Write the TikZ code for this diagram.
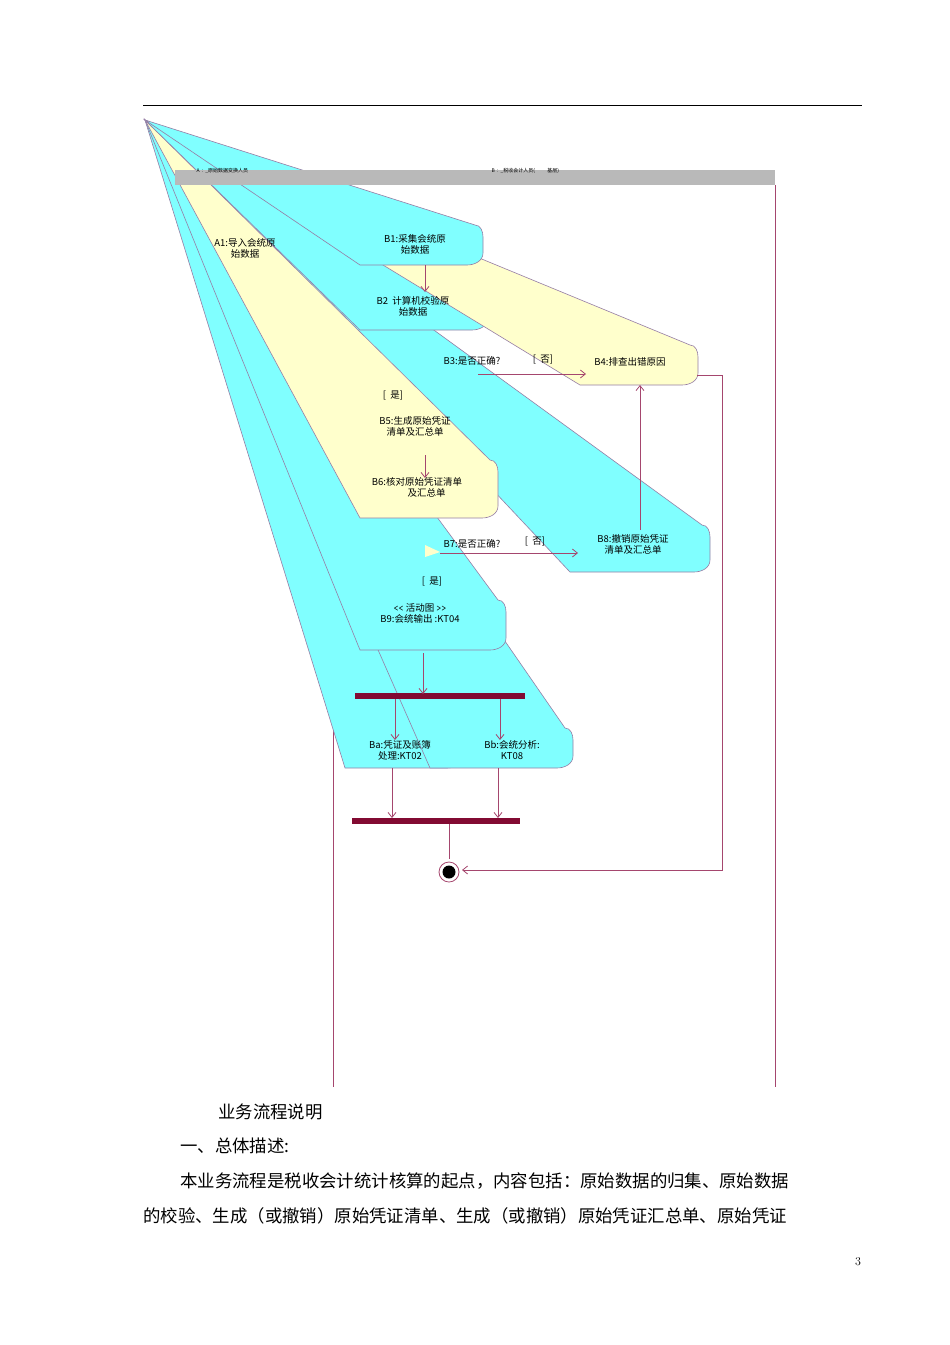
\documentclass[tikz,border=0pt]{standalone}
\usepackage{fontspec}
\newfontfamily\cjk{Noto Sans CJK SC}
\usetikzlibrary{arrows.meta}
\definecolor{cy}{RGB}{128,255,255}
\definecolor{yl}{RGB}{255,255,204}
\definecolor{bd}{RGB}{150,125,165}
\definecolor{ar}{RGB}{165,70,110}
\definecolor{br}{RGB}{130,10,50}
\tikzset{
 smear/.style={draw=bd,line width=0.6pt},
 lbl/.style={font=\cjk\fontsize{9.5}{11}\selectfont,align=center,inner sep=0pt},
 flow/.style={draw=ar,line width=0.8pt,-{Straight Barb[length=5pt,width=8pt]}},
 line/.style={draw=ar,line width=0.8pt},
 bar/.style={fill=br,draw=none},
 txt/.style={font=\cjk\fontsize{17.4}{19}\selectfont,anchor=west,inner sep=0pt}
}
\newcommand{\smearbox}[5]{% color x1 y1 x2 y2
 \filldraw[smear,fill=#1] (145,120) -- (#4,#3) to[out=0,in=90] (#4+8,#3+12) -- (#4+8,#5-12) to[out=-90,in=0] (#4-8,#5) -- (#2,#5) -- cycle;}
\begin{document}
\begin{tikzpicture}[x=1pt,y=-1pt]
\useasboundingbox (0,0) rectangle (950,1345);
\fill[white] (0,0) rectangle (950,1345);
\draw[black,line width=0.6pt] (143,105) -- (862,105);
% lanes
\draw[ar,line width=0.8pt] (333,185) -- (333,1087);
\draw[ar,line width=0.8pt] (775,185) -- (775,1087);
% smears
\smearbox{cy}{345}{728}{455}{768}
\smearbox{cy}{430}{728}{565}{768}
\smearbox{cy}{360}{600}{498}{650}
\smearbox{cy}{570}{525}{702}{572}
\smearbox{yl}{360}{460}{490}{518}
\smearbox{cy}{360}{280}{480}{330}
\smearbox{yl}{580}{345}{690}{385}
\smearbox{cy}{360}{225}{475}{265}
\fill[yl] (425,545) -- (440,552) -- (425,557) -- cycle;
% header
\fill[gray!55] (175,170) rectangle (775,185);
\node[font=\cjk\fontsize{5}{6}\selectfont,anchor=west] (la) at (193,171) {A\ \ :\ \ \_原始数据变换人员};
\node[font=\cjk\fontsize{5}{6}\selectfont,anchor=west] (lb) at (488,171) {B\ \ :\ \ \_税收会计人员(\qquad\ \ 基层)};
% labels
\node[lbl] (A1) at (245,248) {A1:导入会统原\\始数据};
\node[lbl] (B1) at (415,244) {B1:采集会统原\\始数据};
\node[lbl] (B2) at (413,306) {B2\ \ 计算机校验原\\始数据};
\node[lbl] (B3) at (472,361) {B3:是否正确?};
\node[lbl] (n1) at (543,360) {[\ \ 否]};
\node[lbl] (B4) at (630,362) {B4:排查出错原因};
\node[lbl] (y1) at (393,396) {[\ \ 是]};
\node[lbl] (B5) at (415,426) {B5:生成原始凭证\\清单及汇总单};
\node[lbl] (B6) at (417,487) {B6:核对原始凭证清单\\\qquad 及汇总单};
\node[lbl] (B7) at (472,544) {B7:是否正确?};
\node[lbl] (n2) at (535,542) {[\ \ 否]};
\node[lbl] (B8) at (633,544) {B8:撤销原始凭证\\清单及汇总单};
\node[lbl] (y2) at (432,582) {[\ \ 是]};
\node[lbl] (B9) at (420,613) {\texttt{<<} 活动图 \texttt{>>}\\B9:会统输出 :KT04};
\node[lbl] (Ba) at (400,750) {Ba:凭证及账簿\\处理:KT02};
\node[lbl] (Bb) at (512,750) {Bb:会统分析:\\KT08};
% bars and final
\fill[bar] (355,693) rectangle (525,699); \coordinate (fork) at (440,696);
\fill[bar] (352,818) rectangle (520,824); \coordinate (join) at (436,821);
\node[circle,fill=black,minimum size=13pt,inner sep=0pt] (fin) at (449,872) {};
\draw[ar,line width=0.8pt] (fin) circle (10pt);
% connectors
\coordinate (b1s) at (425,265); \coordinate (b2t) at (425,292);
\draw[flow] (b1s) -- (b2t);
\coordinate (b3s) at (478,374); \coordinate (b4w) at (586,374);
\draw[flow] (b3s) -- (b4w);
\coordinate (b4e) at (697,375); \coordinate (c1) at (722,375); \coordinate (c2) at (722,870); \coordinate (fe) at (462,870);
\draw[flow] (b4e) -- (c1) -- (c2) -- (fe);
\coordinate (b8n) at (640,530); \coordinate (b4s) at (640,385);
\draw[flow] (b8n) -- (b4s);
\coordinate (b5s) at (425,455); \coordinate (b6n) at (425,478);
\draw[flow] (b5s) -- (b6n);
\coordinate (b7s) at (440,553); \coordinate (b8w) at (578,553);
\draw[flow] (b7s) -- (b8w);
\coordinate (b9s) at (423,653); \coordinate (fk1) at (423,694);
\draw[flow] (b9s) -- (fk1);
\coordinate (f1) at (395,699); \coordinate (ban) at (395,740);
\coordinate (f2) at (500,699); \coordinate (bbn) at (500,740);
\draw[flow] (f1) -- (ban); \draw[flow] (f2) -- (bbn);
\coordinate (bas) at (392,768); \coordinate (j1) at (392,818);
\coordinate (bbs) at (498,768); \coordinate (j2) at (498,818);
\draw[flow] (bas) -- (j1); \draw[flow] (bbs) -- (j2);
\coordinate (j3) at (449,824); \coordinate (fn) at (449,859);
\draw[line] (j3) -- (fn);
% text below
\node[txt] (t1) at (218,1112) {业务流程说明};
\node[txt] (t2) at (180,1146) {一、总体描述:};
\node[txt] (t3) at (180,1181) {本业务流程是税收会计统计核算的起点，内容包括：原始数据的归集、原始数据};
\node[txt] (t4) at (143,1216) {的校验、生成（或撤销）原始凭证清单、生成（或撤销）原始凭证汇总单、原始凭证};
\node[font=\fontsize{12}{14}\selectfont] (pg) at (858,1262) {3};
\end{tikzpicture}
\end{document}
